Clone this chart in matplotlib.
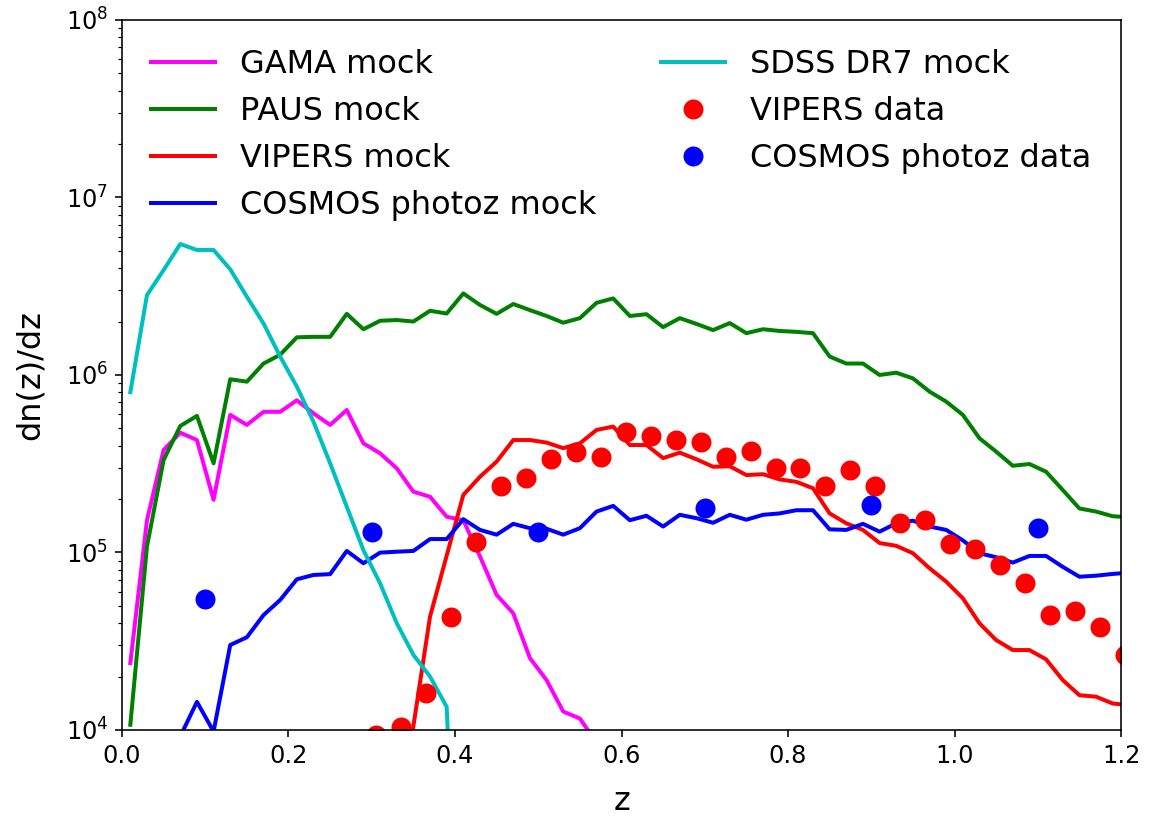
import numpy as np
import matplotlib
matplotlib.use("Agg")
import matplotlib.pyplot as plt

nan = np.nan

# bin centres of the mock n(z)
z = np.round(np.arange(0.01, 1.22, 0.02), 2)

gama = [2.38e4, 1.52e5, 3.78e5, 4.73e5, 4.3e5, 1.98e5, 5.96e5, 5.23e5, 6.2e5, 6.2e5,
        7.2e5, 6.08e5, 5.23e5, 6.35e5, 4.12e5, 3.62e5, 2.98e5, 2.2e5, 2.06e5, 1.59e5,
        1.52e5, 9.5e4, 5.77e4, 4.54e4, 2.54e4, 1.91e4, 1.27e4, 1.16e4, 8.5e3, 5e3,
        nan, nan, nan, nan, nan, nan, nan, nan, nan, nan,
        nan, nan, nan, nan, nan, nan, nan, nan, nan, nan,
        nan, nan, nan, nan, nan, nan, nan, nan, nan, nan, nan]

paus = [1.07e4, 1.08e5, 3.32e5, 5.16e5, 5.88e5, 3.18e5, 9.46e5, 9.17e5, 1.16e6, 1.3e6,
        1.63e6, 1.64e6, 1.64e6, 2.21e6, 1.81e6, 2.02e6, 2.04e6, 2.0e6, 2.3e6, 2.22e6,
        2.88e6, 2.48e6, 2.21e6, 2.51e6, 2.32e6, 2.15e6, 1.97e6, 2.09e6, 2.55e6, 2.7e6,
        2.15e6, 2.2e6, 1.86e6, 2.09e6, 1.94e6, 1.79e6, 1.96e6, 1.72e6, 1.81e6, 1.77e6,
        1.75e6, 1.72e6, 1.27e6, 1.16e6, 1.16e6, 1.0e6, 1.03e6, 9.57e5, 8.06e5, 7.08e5,
        5.96e5, 4.4e5, 3.7e5, 3.08e5, 3.15e5, 2.85e5, 2.25e5, 1.77e5, 1.7e5, 1.6e5, 1.58e5]

vipers = [nan, nan, nan, nan, nan, nan, nan, nan, nan, nan,
          nan, nan, nan, nan, nan, nan, 2e3, 1.05e4, 4.35e4, 9.6e4,
          2.11e5, 2.67e5, 3.25e5, 4.3e5, 4.3e5, 4.16e5, 3.87e5, 4.12e5, 4.9e5, 5.12e5,
          4.03e5, 4.03e5, 3.4e5, 3.65e5, 3.35e5, 3.04e5, 3.06e5, 2.73e5, 2.76e5, 2.58e5,
          2.5e5, 2.3e5, 1.66e5, 1.46e5, 1.34e5, 1.13e5, 1.09e5, 9.9e4, 8.15e4, 6.85e4,
          5.52e4, 3.99e4, 3.21e4, 2.82e4, 2.82e4, 2.5e4, 1.91e4, 1.57e4, 1.54e4, 1.41e4, 1.38e4]

cosmos = [nan, nan, 1e3, 9.2e3, 1.44e4, 9.8e3, 3.01e4, 3.33e4, 4.44e4, 5.4e4,
          7.06e4, 7.47e4, 7.55e4, 1.02e5, 8.7e4, 9.98e4, 1.01e5, 1.02e5, 1.19e5, 1.19e5,
          1.54e5, 1.34e5, 1.26e5, 1.45e5, 1.37e5, 1.36e5, 1.26e5, 1.37e5, 1.7e5, 1.83e5,
          1.52e5, 1.61e5, 1.4e5, 1.63e5, 1.56e5, 1.47e5, 1.63e5, 1.53e5, 1.63e5, 1.66e5,
          1.73e5, 1.73e5, 1.35e5, 1.34e5, 1.45e5, 1.31e5, 1.46e5, 1.51e5, 1.4e5, 1.34e5,
          1.17e5, 9.9e4, 9.4e4, 8.77e4, 9.56e4, 9.56e4, 8.3e4, 7.3e4, 7.4e4, 7.57e4, 7.7e4]

sdss = [8.0e5, 2.82e6, 3.9e6, 5.47e6, 5.06e6, 5.06e6, 3.94e6, 2.76e6, 1.95e6, 1.27e6,
        8.6e5, 5.46e5, 3.18e5, 1.81e5, 1.03e5, 6.7e4, 4.0e4, 2.65e4, 2.0e4, 1.35e4,
        1e2, nan, nan, nan, nan, nan, nan, nan, nan, nan,
        nan, nan, nan, nan, nan, nan, nan, nan, nan, nan,
        nan, nan, nan, nan, nan, nan, nan, nan, nan, nan,
        nan, nan, nan, nan, nan, nan, nan, nan, nan, nan, nan]

# observed data
z_vipers = [0.305, 0.335, 0.365, 0.395, 0.425, 0.455, 0.485, 0.515, 0.545, 0.575,
            0.605, 0.635, 0.665, 0.695, 0.725, 0.755, 0.785, 0.815, 0.845, 0.875,
            0.905, 0.935, 0.965, 0.995, 1.025, 1.055, 1.085, 1.115, 1.145, 1.175, 1.205]
n_vipers = [9.4e3, 1.04e4, 1.61e4, 4.35e4, 1.15e5, 2.37e5, 2.62e5, 3.35e5, 3.7e5, 3.47e5,
            4.8e5, 4.53e5, 4.3e5, 4.21e5, 3.47e5, 3.73e5, 2.98e5, 2.98e5, 2.37e5, 2.92e5,
            2.37e5, 1.47e5, 1.52e5, 1.11e5, 1.04e5, 8.5e4, 6.76e4, 4.44e4, 4.68e4, 3.82e4, 2.65e4]

z_cosmos = [0.1, 0.3, 0.5, 0.7, 0.9, 1.1]
n_cosmos = [5.45e4, 1.31e5, 1.31e5, 1.77e5, 1.85e5, 1.37e5]

fig = plt.figure(figsize=(8, 5.6875), dpi=144)
ax = fig.add_axes([0.1059, 0.1087, 0.8672, 0.8669])

ax.plot(z, gama, color='#ff00ff', lw=2, label='GAMA mock')
ax.plot(z, paus, color='g', lw=2, label='PAUS mock')
ax.plot(z, vipers, color='r', lw=2, label='VIPERS mock')
ax.plot(z, cosmos, color='b', lw=2, label='COSMOS photoz mock')
ax.plot(z, sdss, color='c', lw=2, label='SDSS DR7 mock')
ax.plot(z_vipers, n_vipers, 'o', color='r', ms=10, mec='none', label='VIPERS data')
ax.plot(z_cosmos, n_cosmos, 'o', color='b', ms=10, mec='none', label='COSMOS photoz data')

ax.set_yscale('log')
ax.set_xlim(0, 1.2)
ax.set_ylim(1e4, 1e8)
ax.set_xticks([0.0, 0.2, 0.4, 0.6, 0.8, 1.0, 1.2])
ax.tick_params(labelsize=12)
ax.set_xlabel('z', fontsize=16, labelpad=9)
ax.set_ylabel('dn(z)/dz', fontsize=16, labelpad=10)
ax.legend(loc='upper left', ncol=2, frameon=False, fontsize=16, numpoints=1)

fig.savefig('out.png', dpi=144)
